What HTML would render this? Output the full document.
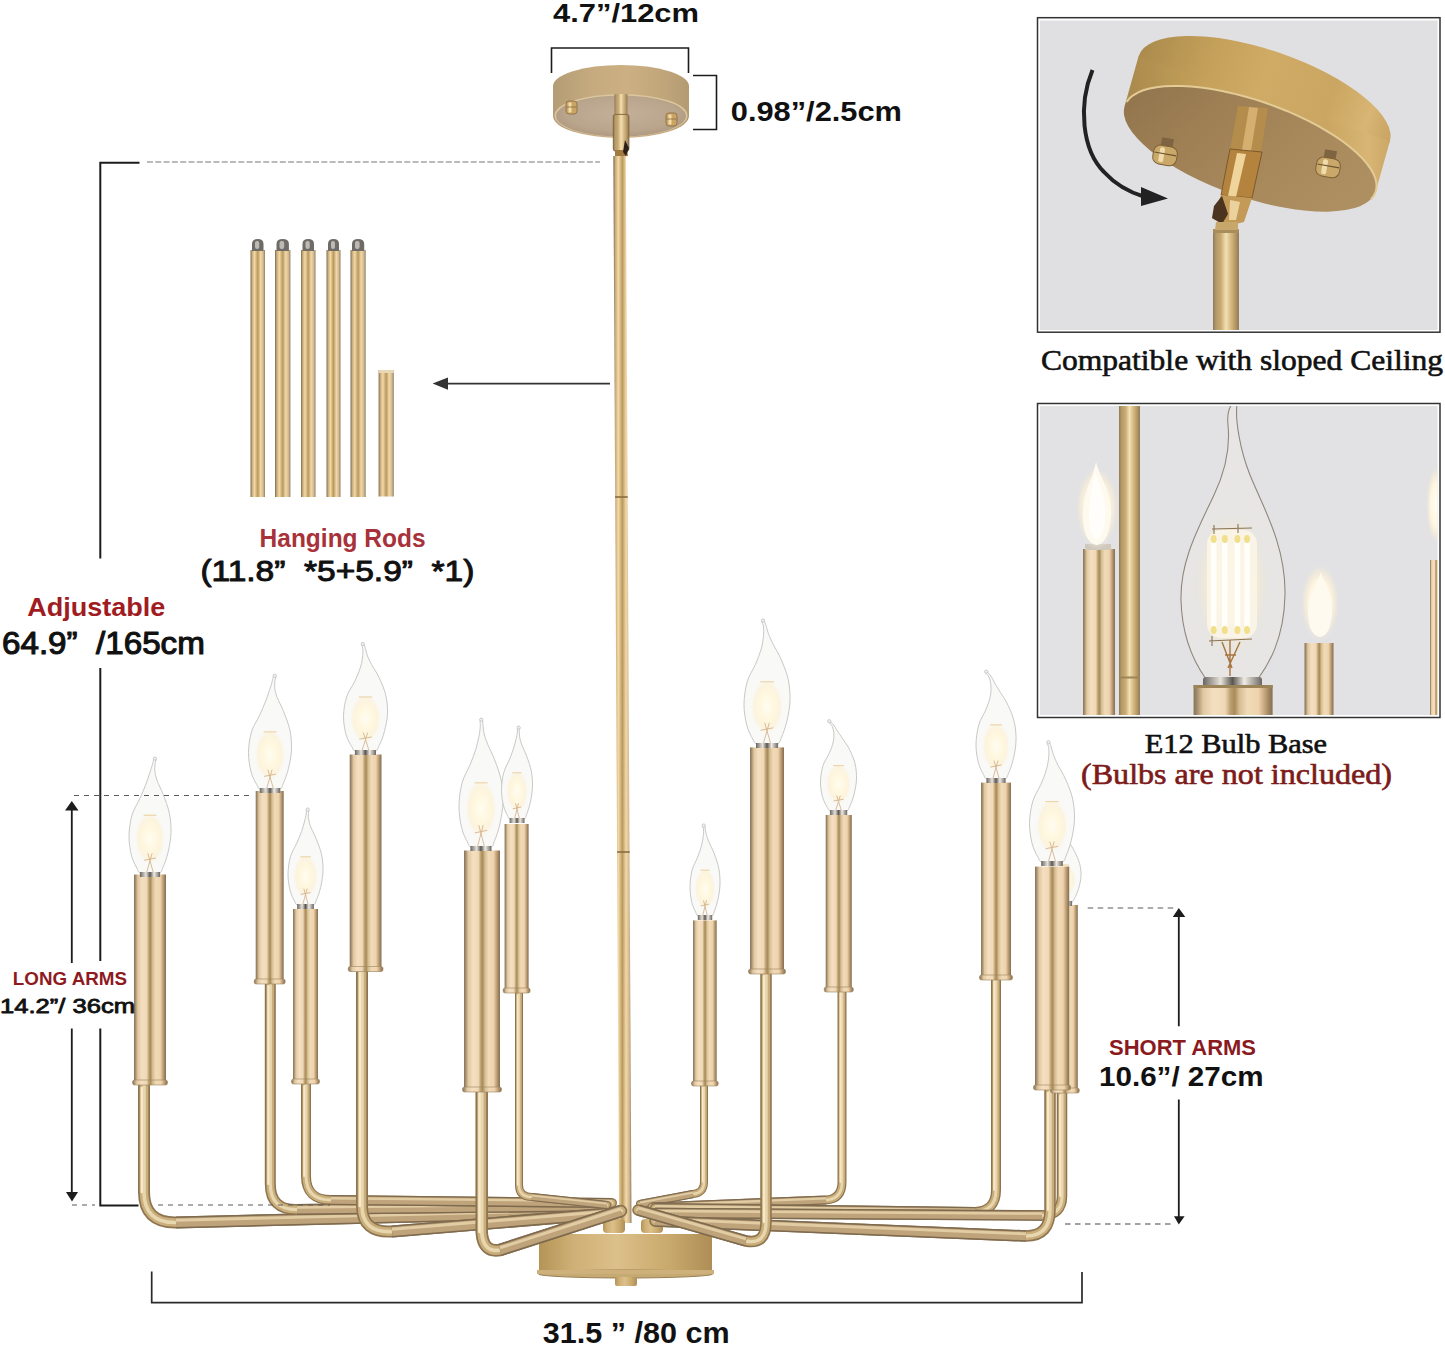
<!DOCTYPE html>
<html><head><meta charset="utf-8"><title>Chandelier</title>
<style>html,body{margin:0;padding:0;background:#fff;width:1445px;height:1351px;overflow:hidden}body{position:relative}</style>
</head><body>
<svg width="1445" height="1351" viewBox="0 0 1445 1351" style="position:absolute;left:0;top:0">
<defs>
 <linearGradient id="gMain" x1="0" y1="0" x2="1" y2="0"><stop offset="0" stop-color="#7c6b4f"/><stop offset="0.12" stop-color="#c9ad7c"/><stop offset="0.28" stop-color="#f4d9a6"/><stop offset="0.5" stop-color="#b8995e"/><stop offset="0.7" stop-color="#f3d8a8"/><stop offset="0.88" stop-color="#d2b78e"/><stop offset="1" stop-color="#8f7e60"/></linearGradient>
 <linearGradient id="gV" x1="0" y1="0" x2="1" y2="0">
  <stop offset="0" stop-color="#857256"/>
  <stop offset="0.05" stop-color="#a99070"/>
  <stop offset="0.12" stop-color="#e0c8a2"/>
  <stop offset="0.25" stop-color="#f5dfc0"/>
  <stop offset="0.4" stop-color="#f0d8b6"/>
  <stop offset="0.47" stop-color="#b99d6c"/>
  <stop offset="0.52" stop-color="#a98c5a"/>
  <stop offset="0.58" stop-color="#d5bd92"/>
  <stop offset="0.68" stop-color="#f1dab6"/>
  <stop offset="0.82" stop-color="#eed4ae"/>
  <stop offset="0.9" stop-color="#c6a47c"/>
  <stop offset="0.96" stop-color="#9a8260"/>
  <stop offset="1" stop-color="#857050"/>
 </linearGradient>
 <linearGradient id="gRod" x1="0" y1="0" x2="1" y2="0">
  <stop offset="0" stop-color="#8c7a5a"/>
  <stop offset="0.12" stop-color="#b59a68"/>
  <stop offset="0.3" stop-color="#c8a972"/>
  <stop offset="0.5" stop-color="#f3e0b4"/>
  <stop offset="0.65" stop-color="#dcc08a"/>
  <stop offset="0.85" stop-color="#b89a66"/>
  <stop offset="1" stop-color="#8e7b5a"/>
 </linearGradient>
 <linearGradient id="gSock" x1="0" y1="0" x2="1" y2="0">
  <stop offset="0" stop-color="#6a6560"/>
  <stop offset="0.3" stop-color="#e8e4dc"/>
  <stop offset="0.5" stop-color="#5a5550"/>
  <stop offset="0.7" stop-color="#f0ece4"/>
  <stop offset="1" stop-color="#6a6560"/>
 </linearGradient>
 <radialGradient id="gGlow" cx="0.5" cy="0.55" r="0.5">
  <stop offset="0" stop-color="#fffbea"/>
  <stop offset="0.5" stop-color="#fff6dc"/>
  <stop offset="1" stop-color="#fdfcf8"/>
 </radialGradient>
 <radialGradient id="gGlow2" cx="0.5" cy="0.5" r="0.5">
  <stop offset="0" stop-color="#fffdf2"/>
  <stop offset="0.45" stop-color="#fff7de"/>
  <stop offset="0.75" stop-color="#fcf2d8" stop-opacity="0.8"/>
  <stop offset="1" stop-color="#f9f9f8" stop-opacity="0"/>
 </radialGradient>
 <linearGradient id="gHub" x1="0" y1="0" x2="1" y2="0">
  <stop offset="0" stop-color="#b49456"/>
  <stop offset="0.2" stop-color="#cfb076"/>
  <stop offset="0.45" stop-color="#dcc08a"/>
  <stop offset="0.75" stop-color="#c9a96c"/>
  <stop offset="1" stop-color="#ae8e56"/>
 </linearGradient>
 <linearGradient id="gCan" x1="0" y1="0" x2="1" y2="0">
  <stop offset="0" stop-color="#b99c6c"/>
  <stop offset="0.4" stop-color="#d0b381"/>
  <stop offset="0.6" stop-color="#caa978"/>
  <stop offset="1" stop-color="#b5976a"/>
 </linearGradient>
</defs>
<rect x="250.5" y="250" width="14.5" height="247" fill="url(#gMain)"/><path d="M252.0,251 L252.0,244 Q252.0,239 257.75,239 Q263.5,239 263.5,244 L263.5,251 Z" fill="#6f6b67"/><rect x="255.0" y="241" width="4.25" height="8" rx="2" fill="#bdb9b4"/><rect x="275" y="250" width="15.399999999999977" height="247" fill="url(#gMain)"/><path d="M276.5,251 L276.5,244 Q276.5,239 282.7,239 Q288.9,239 288.9,244 L288.9,251 Z" fill="#6f6b67"/><rect x="279.5" y="241" width="4.699999999999989" height="8" rx="2" fill="#bdb9b4"/><rect x="301" y="250" width="14.5" height="247" fill="url(#gMain)"/><path d="M302.5,251 L302.5,244 Q302.5,239 308.25,239 Q314.0,239 314.0,244 L314.0,251 Z" fill="#6f6b67"/><rect x="305.5" y="241" width="4.25" height="8" rx="2" fill="#bdb9b4"/><rect x="326.5" y="250" width="14.0" height="247" fill="url(#gMain)"/><path d="M328.0,251 L328.0,244 Q328.0,239 333.5,239 Q339.0,239 339.0,244 L339.0,251 Z" fill="#6f6b67"/><rect x="331.0" y="241" width="4.0" height="8" rx="2" fill="#bdb9b4"/><rect x="350.5" y="250" width="15.199999999999989" height="247" fill="url(#gMain)"/><path d="M352.0,251 L352.0,244 Q352.0,239 358.1,239 Q364.2,239 364.2,244 L364.2,251 Z" fill="#6f6b67"/><rect x="355.0" y="241" width="4.599999999999994" height="8" rx="2" fill="#bdb9b4"/><rect x="378.6" y="370" width="15.2" height="126.5" fill="url(#gMain)"/><rect x="378.6" y="370" width="15.2" height="3" fill="#e8d8b4"/><g id="canopy"><linearGradient id="gBand" x1="0" y1="0" x2="1" y2="0"><stop offset="0" stop-color="#b49c74"/><stop offset="0.3" stop-color="#c6ab7f"/><stop offset="0.55" stop-color="#ccb084"/><stop offset="0.8" stop-color="#c1a67a"/><stop offset="1" stop-color="#b39b72"/></linearGradient><radialGradient id="gBface" cx="0.5" cy="0.45" r="0.6"><stop offset="0" stop-color="#c4b09a"/><stop offset="0.7" stop-color="#b9a48c"/><stop offset="1" stop-color="#ad977d"/></radialGradient><path d="M553,86 L553,116 A68,22 0 0 0 689,116 L689,86 Z" fill="url(#gBand)"/><ellipse cx="621" cy="86" rx="68" ry="21" fill="url(#gBand)"/><ellipse cx="621" cy="115.5" rx="66.5" ry="21.5" fill="#dcc6a0"/><ellipse cx="621" cy="116" rx="65" ry="20.5" fill="url(#gBface)"/><rect x="566.0" y="101" width="11" height="13" rx="3" fill="#c9a466" stroke="#8a6b3c" stroke-width="0.8"/><rect x="568.5" y="102.5" width="3" height="10" fill="#f2dca8"/><path d="M566.5,107 L576.5,107" stroke="#8a6b3c" stroke-width="0.8"/><rect x="666.0" y="113" width="11" height="13" rx="3" fill="#c9a466" stroke="#8a6b3c" stroke-width="0.8"/><rect x="668.5" y="114.5" width="3" height="10" fill="#f2dca8"/><path d="M666.5,119 L676.5,119" stroke="#8a6b3c" stroke-width="0.8"/><rect x="614.5" y="94" width="13" height="22" fill="url(#gRod)"/><rect x="613.3" y="114.4" width="15.6" height="36.6" rx="2" fill="url(#gRod)" stroke="#7e6236" stroke-width="0.9"/><path d="M615,150 L627,150 L628,156 L615,157 Z" fill="#a07a40"/><path d="M625,140 L629,148 L626,156 L623,152 Z" fill="#2a2018"/></g><path d="M613.3,156 L619.1,1223 L631.5,1223 L625.8,156 Z" fill="url(#gMain)"/><rect x="615.1" y="496" width="12.6" height="2" fill="#8a6c3e" opacity="0.8"/><rect x="617.1" y="851" width="12.6" height="2" fill="#8a6c3e" opacity="0.8"/><g id="hub"><rect x="539" y="1234" width="173" height="40" fill="url(#gHub)"/><ellipse cx="625.5" cy="1274" rx="87" ry="4" fill="#c6aa74" stroke="#9a7f55" stroke-width="1"/><rect x="537" y="1270" width="177" height="4" fill="#cdb07a"/><rect x="615" y="1277" width="22" height="9" rx="2" fill="url(#gHub)"/><rect x="603" y="1219" width="22" height="14" rx="4" fill="url(#gHub)"/><rect x="641" y="1219" width="22" height="14" rx="4" fill="url(#gHub)"/></g><path d="M144,1086 L144,1192 Q144,1223 176,1222.5 L600,1212" fill="none" stroke="#8c7450" stroke-width="12" stroke-linecap="round" stroke-linejoin="round"/><path d="M144,1086 L144,1192 Q144,1223 176,1222.5 L600,1212" fill="none" stroke="#c9ad7a" stroke-width="8.6" stroke-linecap="round" stroke-linejoin="round"/><path d="M144,1086 L144,1192 Q144,1223 176,1222.5 L600,1212" fill="none" stroke="#e8d6ae" stroke-width="3.6" stroke-linecap="round" stroke-linejoin="round"/><path d="M141.8,1088.0 L141.8,1192.0" stroke="#f6e8c8" stroke-width="2.4" stroke-linecap="round"/><path d="M176.0,1222.5 L600.0,1212.0" fill="none" stroke="#7e6a4e" stroke-width="12" stroke-linecap="butt"/><path d="M176.0,1222.5 L600.0,1212.0" fill="none" stroke="#bea37b" stroke-width="8.9" stroke-linecap="butt"/><path d="M176.0,1220.3 L600.0,1209.8" fill="none" stroke="#e2cca4" stroke-width="2.9" stroke-linecap="butt"/><path d="M270.3,984 L270.3,1184 Q270.3,1210 297,1209.5 L610,1206" fill="none" stroke="#8c7450" stroke-width="11" stroke-linecap="round" stroke-linejoin="round"/><path d="M270.3,984 L270.3,1184 Q270.3,1210 297,1209.5 L610,1206" fill="none" stroke="#c9ad7a" stroke-width="7.9" stroke-linecap="round" stroke-linejoin="round"/><path d="M270.3,984 L270.3,1184 Q270.3,1210 297,1209.5 L610,1206" fill="none" stroke="#e8d6ae" stroke-width="3.3" stroke-linecap="round" stroke-linejoin="round"/><path d="M268.3,986.0 L268.3,1184.0" stroke="#f6e8c8" stroke-width="2.2" stroke-linecap="round"/><path d="M297.0,1209.5 L610.0,1206.0" fill="none" stroke="#7e6a4e" stroke-width="11" stroke-linecap="butt"/><path d="M297.0,1209.5 L610.0,1206.0" fill="none" stroke="#bea37b" stroke-width="8.1" stroke-linecap="butt"/><path d="M297.0,1207.5 L610.0,1204.0" fill="none" stroke="#e2cca4" stroke-width="2.6" stroke-linecap="butt"/><path d="M306,1084 L306,1176 Q306,1200 331,1200 L612,1203" fill="none" stroke="#8c7450" stroke-width="10" stroke-linecap="round" stroke-linejoin="round"/><path d="M306,1084 L306,1176 Q306,1200 331,1200 L612,1203" fill="none" stroke="#c9ad7a" stroke-width="7.2" stroke-linecap="round" stroke-linejoin="round"/><path d="M306,1084 L306,1176 Q306,1200 331,1200 L612,1203" fill="none" stroke="#e8d6ae" stroke-width="3.0" stroke-linecap="round" stroke-linejoin="round"/><path d="M304.2,1086.0 L304.2,1176.0" stroke="#f6e8c8" stroke-width="2.0" stroke-linecap="round"/><path d="M331.0,1200.0 L612.0,1203.0" fill="none" stroke="#7e6a4e" stroke-width="10" stroke-linecap="butt"/><path d="M331.0,1200.0 L612.0,1203.0" fill="none" stroke="#bea37b" stroke-width="7.4" stroke-linecap="butt"/><path d="M331.0,1198.2 L612.0,1201.2" fill="none" stroke="#e2cca4" stroke-width="2.4" stroke-linecap="butt"/><path d="M362,971 L362,1206 Q362,1233 392,1231.5 L615,1213" fill="none" stroke="#8c7450" stroke-width="12" stroke-linecap="round" stroke-linejoin="round"/><path d="M362,971 L362,1206 Q362,1233 392,1231.5 L615,1213" fill="none" stroke="#c9ad7a" stroke-width="8.6" stroke-linecap="round" stroke-linejoin="round"/><path d="M362,971 L362,1206 Q362,1233 392,1231.5 L615,1213" fill="none" stroke="#e8d6ae" stroke-width="3.6" stroke-linecap="round" stroke-linejoin="round"/><path d="M359.8,973.0 L359.8,1206.0" stroke="#f6e8c8" stroke-width="2.4" stroke-linecap="round"/><path d="M392.0,1231.5 L615.0,1213.0" fill="none" stroke="#7e6a4e" stroke-width="12" stroke-linecap="butt"/><path d="M392.0,1231.5 L615.0,1213.0" fill="none" stroke="#bea37b" stroke-width="8.9" stroke-linecap="butt"/><path d="M392.0,1229.3 L615.0,1210.8" fill="none" stroke="#e2cca4" stroke-width="2.9" stroke-linecap="butt"/><path d="M519,993 L519,1185 Q519,1197 532,1197 L607,1205" fill="none" stroke="#8c7450" stroke-width="8" stroke-linecap="round" stroke-linejoin="round"/><path d="M519,993 L519,1185 Q519,1197 532,1197 L607,1205" fill="none" stroke="#c9ad7a" stroke-width="5.8" stroke-linecap="round" stroke-linejoin="round"/><path d="M519,993 L519,1185 Q519,1197 532,1197 L607,1205" fill="none" stroke="#e8d6ae" stroke-width="2.4" stroke-linecap="round" stroke-linejoin="round"/><path d="M517.6,995.0 L517.6,1185.0" stroke="#f6e8c8" stroke-width="1.6" stroke-linecap="round"/><path d="M532.0,1197.0 L607.0,1205.0" fill="none" stroke="#7e6a4e" stroke-width="8" stroke-linecap="butt"/><path d="M532.0,1197.0 L607.0,1205.0" fill="none" stroke="#bea37b" stroke-width="5.9" stroke-linecap="butt"/><path d="M532.0,1195.6 L607.0,1203.6" fill="none" stroke="#e2cca4" stroke-width="1.9" stroke-linecap="butt"/><path d="M704,1085 L704,1182 Q704,1193 693,1194 L640,1204" fill="none" stroke="#8c7450" stroke-width="8" stroke-linecap="round" stroke-linejoin="round"/><path d="M704,1085 L704,1182 Q704,1193 693,1194 L640,1204" fill="none" stroke="#c9ad7a" stroke-width="5.8" stroke-linecap="round" stroke-linejoin="round"/><path d="M704,1085 L704,1182 Q704,1193 693,1194 L640,1204" fill="none" stroke="#e8d6ae" stroke-width="2.4" stroke-linecap="round" stroke-linejoin="round"/><path d="M702.6,1087.0 L702.6,1182.0" stroke="#f6e8c8" stroke-width="1.6" stroke-linecap="round"/><path d="M693.0,1194.0 L640.0,1204.0" fill="none" stroke="#7e6a4e" stroke-width="8" stroke-linecap="butt"/><path d="M693.0,1194.0 L640.0,1204.0" fill="none" stroke="#bea37b" stroke-width="5.9" stroke-linecap="butt"/><path d="M693.0,1192.6 L640.0,1202.6" fill="none" stroke="#e2cca4" stroke-width="1.9" stroke-linecap="butt"/><path d="M842,991 L842,1182 Q842,1199 826,1200 L652,1207" fill="none" stroke="#8c7450" stroke-width="9" stroke-linecap="round" stroke-linejoin="round"/><path d="M842,991 L842,1182 Q842,1199 826,1200 L652,1207" fill="none" stroke="#c9ad7a" stroke-width="6.5" stroke-linecap="round" stroke-linejoin="round"/><path d="M842,991 L842,1182 Q842,1199 826,1200 L652,1207" fill="none" stroke="#e8d6ae" stroke-width="2.7" stroke-linecap="round" stroke-linejoin="round"/><path d="M840.4,993.0 L840.4,1182.0" stroke="#f6e8c8" stroke-width="1.8" stroke-linecap="round"/><path d="M826.0,1200.0 L652.0,1207.0" fill="none" stroke="#7e6a4e" stroke-width="9" stroke-linecap="butt"/><path d="M826.0,1200.0 L652.0,1207.0" fill="none" stroke="#bea37b" stroke-width="6.7" stroke-linecap="butt"/><path d="M826.0,1198.4 L652.0,1205.4" fill="none" stroke="#e2cca4" stroke-width="2.2" stroke-linecap="butt"/><path d="M996,979 L996,1190 Q996,1211 975,1212 L655,1208" fill="none" stroke="#8c7450" stroke-width="10" stroke-linecap="round" stroke-linejoin="round"/><path d="M996,979 L996,1190 Q996,1211 975,1212 L655,1208" fill="none" stroke="#c9ad7a" stroke-width="7.2" stroke-linecap="round" stroke-linejoin="round"/><path d="M996,979 L996,1190 Q996,1211 975,1212 L655,1208" fill="none" stroke="#e8d6ae" stroke-width="3.0" stroke-linecap="round" stroke-linejoin="round"/><path d="M994.2,981.0 L994.2,1190.0" stroke="#f6e8c8" stroke-width="2.0" stroke-linecap="round"/><path d="M975.0,1212.0 L655.0,1208.0" fill="none" stroke="#7e6a4e" stroke-width="10" stroke-linecap="butt"/><path d="M975.0,1212.0 L655.0,1208.0" fill="none" stroke="#bea37b" stroke-width="7.4" stroke-linecap="butt"/><path d="M975.0,1210.2 L655.0,1206.2" fill="none" stroke="#e2cca4" stroke-width="2.4" stroke-linecap="butt"/><path d="M1062,1093 L1062,1196 Q1062,1215 1042,1215.5 L655,1213" fill="none" stroke="#8c7450" stroke-width="10.5" stroke-linecap="round" stroke-linejoin="round"/><path d="M1062,1093 L1062,1196 Q1062,1215 1042,1215.5 L655,1213" fill="none" stroke="#c9ad7a" stroke-width="7.6" stroke-linecap="round" stroke-linejoin="round"/><path d="M1062,1093 L1062,1196 Q1062,1215 1042,1215.5 L655,1213" fill="none" stroke="#e8d6ae" stroke-width="3.1" stroke-linecap="round" stroke-linejoin="round"/><path d="M1060.1,1095.0 L1060.1,1196.0" stroke="#f6e8c8" stroke-width="2.1" stroke-linecap="round"/><path d="M1042.0,1215.5 L655.0,1213.0" fill="none" stroke="#7e6a4e" stroke-width="10.5" stroke-linecap="butt"/><path d="M1042.0,1215.5 L655.0,1213.0" fill="none" stroke="#bea37b" stroke-width="7.8" stroke-linecap="butt"/><path d="M1042.0,1213.6 L655.0,1211.1" fill="none" stroke="#e2cca4" stroke-width="2.5" stroke-linecap="butt"/><path d="M1050,1091 L1050,1210 Q1050,1236 1026,1236 L655,1221" fill="none" stroke="#8c7450" stroke-width="11.5" stroke-linecap="round" stroke-linejoin="round"/><path d="M1050,1091 L1050,1210 Q1050,1236 1026,1236 L655,1221" fill="none" stroke="#c9ad7a" stroke-width="8.3" stroke-linecap="round" stroke-linejoin="round"/><path d="M1050,1091 L1050,1210 Q1050,1236 1026,1236 L655,1221" fill="none" stroke="#e8d6ae" stroke-width="3.4" stroke-linecap="round" stroke-linejoin="round"/><path d="M1047.9,1093.0 L1047.9,1210.0" stroke="#f6e8c8" stroke-width="2.3" stroke-linecap="round"/><path d="M1026.0,1236.0 L655.0,1221.0" fill="none" stroke="#7e6a4e" stroke-width="11.5" stroke-linecap="butt"/><path d="M1026.0,1236.0 L655.0,1221.0" fill="none" stroke="#bea37b" stroke-width="8.5" stroke-linecap="butt"/><path d="M1026.0,1233.9 L655.0,1218.9" fill="none" stroke="#e2cca4" stroke-width="2.8" stroke-linecap="butt"/><path d="M766,974 L766,1222 Q766,1245 746,1241 L638,1210" fill="none" stroke="#8c7450" stroke-width="11.5" stroke-linecap="round" stroke-linejoin="round"/><path d="M766,974 L766,1222 Q766,1245 746,1241 L638,1210" fill="none" stroke="#c9ad7a" stroke-width="8.3" stroke-linecap="round" stroke-linejoin="round"/><path d="M766,974 L766,1222 Q766,1245 746,1241 L638,1210" fill="none" stroke="#e8d6ae" stroke-width="3.4" stroke-linecap="round" stroke-linejoin="round"/><path d="M763.9,976.0 L763.9,1222.0" stroke="#f6e8c8" stroke-width="2.3" stroke-linecap="round"/><path d="M746.0,1241.0 L638.0,1210.0" fill="none" stroke="#7e6a4e" stroke-width="11.5" stroke-linecap="butt"/><path d="M746.0,1241.0 L638.0,1210.0" fill="none" stroke="#bea37b" stroke-width="8.5" stroke-linecap="butt"/><path d="M746.0,1238.9 L638.0,1207.9" fill="none" stroke="#e2cca4" stroke-width="2.8" stroke-linecap="butt"/><path d="M481.7,1091 L481.7,1232 Q483,1253 500,1250 L621,1211" fill="none" stroke="#8c7450" stroke-width="12.5" stroke-linecap="round" stroke-linejoin="round"/><path d="M481.7,1091 L481.7,1232 Q483,1253 500,1250 L621,1211" fill="none" stroke="#c9ad7a" stroke-width="9.0" stroke-linecap="round" stroke-linejoin="round"/><path d="M481.7,1091 L481.7,1232 Q483,1253 500,1250 L621,1211" fill="none" stroke="#e8d6ae" stroke-width="3.8" stroke-linecap="round" stroke-linejoin="round"/><path d="M479.4,1093.0 L479.4,1232.0" stroke="#f6e8c8" stroke-width="2.5" stroke-linecap="round"/><path d="M500.0,1250.0 L621.0,1211.0" fill="none" stroke="#7e6a4e" stroke-width="12.5" stroke-linecap="butt"/><path d="M500.0,1250.0 L621.0,1211.0" fill="none" stroke="#bea37b" stroke-width="9.2" stroke-linecap="butt"/><path d="M500.0,1247.8 L621.0,1208.8" fill="none" stroke="#e2cca4" stroke-width="3.0" stroke-linecap="butt"/><rect x="134" y="874.5" width="32" height="210.5" fill="url(#gV)"/><rect x="132.5" y="1080" width="35" height="5" rx="2" fill="url(#gV)" stroke="#9c855e" stroke-width="0.6"/><path d="M141.2,873.0 C137.5,872.2 138.6,871.3 137.0,868.4 C135.4,865.5 132.9,861.1 131.5,855.7 C130.2,850.3 128.9,842.8 129.0,836.1 C129.1,829.3 130.2,821.5 131.9,815.3 C133.7,809.1 137.3,804.1 139.6,799.1 C141.8,794.1 143.8,789.5 145.5,785.3 C147.1,781.1 148.3,777.2 149.5,773.8 C150.6,770.3 151.6,767.0 152.4,764.5 C153.1,762.1 153.4,760.3 153.8,759.1 C154.2,757.9 154.6,757.6 155.0,757.6 C155.4,757.6 156.2,758.1 156.2,759.1 C156.2,760.1 155.4,761.3 155.1,763.4 C154.9,765.4 154.5,768.6 154.9,771.4 C155.2,774.3 155.8,776.8 157.1,780.7 C158.5,784.5 161.1,789.1 163.2,794.5 C165.2,799.9 168.0,806.6 169.3,813.0 C170.6,819.3 171.2,826.1 171.0,832.6 C170.8,839.1 169.4,846.5 168.1,852.2 C166.7,858.0 164.6,863.8 163.0,867.2 C161.5,870.7 162.5,872.0 158.8,873.0 C155.2,874.0 144.8,873.8 141.2,873.0 Z" fill="#f9f9f8" stroke="#c8c8c6" stroke-width="1"/><circle cx="155.0" cy="758.6" r="1.6" fill="#f4f4f4" stroke="#b8b8b8" stroke-width="0.7"/><ellipse cx="150.0" cy="838.4" rx="15.8" ry="27.7" fill="url(#gGlow2)"/><path d="M143.7,815.3 L156.3,815.3" stroke="#e9cf98" stroke-width="1.2" opacity="0.8"/><path d="M144.1,860.3 L155.9,858.0 M146.8,872.0 L152.1,853.4 M153.2,872.0 L147.9,853.4" stroke="#c9a070" stroke-width="0.9" opacity="0.75"/><rect x="139.9" y="872.0" width="20.2" height="5" fill="url(#gSock)"/><rect x="255.7" y="791" width="28.0" height="193" fill="url(#gV)"/><rect x="254.2" y="979" width="31.0" height="5" rx="2" fill="url(#gV)" stroke="#9c855e" stroke-width="0.6"/><path d="M261.0,789.0 C257.2,788.2 258.3,787.3 256.7,784.4 C255.0,781.6 252.4,777.2 251.1,771.9 C249.7,766.5 248.4,759.1 248.5,752.4 C248.6,745.8 249.7,737.9 251.5,731.9 C253.3,725.8 257.0,720.8 259.3,715.8 C261.6,710.9 263.6,706.3 265.3,702.1 C267.0,697.9 268.2,694.1 269.3,690.7 C270.5,687.3 271.5,684.0 272.1,681.6 C272.8,679.1 273.1,677.3 273.5,676.2 C273.9,675.1 274.3,674.7 274.7,674.7 C275.1,674.7 275.9,675.2 275.9,676.2 C275.9,677.2 275.2,678.4 275.0,680.4 C274.8,682.5 274.4,685.6 274.8,688.4 C275.2,691.3 275.8,693.8 277.2,697.6 C278.7,701.4 281.4,705.9 283.5,711.3 C285.6,716.6 288.4,723.3 289.8,729.6 C291.1,735.9 291.7,742.5 291.5,749.0 C291.3,755.5 289.9,762.7 288.5,768.4 C287.1,774.1 284.9,779.9 283.3,783.3 C281.8,786.7 282.8,788.0 279.0,789.0 C275.3,790.0 264.7,789.8 261.0,789.0 Z" fill="#f9f9f8" stroke="#c8c8c6" stroke-width="1"/><circle cx="274.7" cy="675.7" r="1.6" fill="#f4f4f4" stroke="#b8b8b8" stroke-width="0.7"/><ellipse cx="270.0" cy="754.7" rx="16.1" ry="27.4" fill="url(#gGlow2)"/><path d="M263.6,731.9 L276.4,731.9" stroke="#e9cf98" stroke-width="1.2" opacity="0.8"/><path d="M264.0,776.4 L276.0,774.1 M266.8,788.0 L272.1,769.6 M273.2,788.0 L267.9,769.6" stroke="#c9a070" stroke-width="0.9" opacity="0.75"/><rect x="259.7" y="788.0" width="20.6" height="5" fill="url(#gSock)"/><rect x="293" y="909" width="25" height="175" fill="url(#gV)"/><rect x="291.5" y="1079" width="28" height="5" rx="2" fill="url(#gV)" stroke="#9c855e" stroke-width="0.6"/><path d="M298.1,905.0 C295.1,904.4 296.0,903.6 294.6,901.1 C293.3,898.7 291.2,895.0 290.1,890.5 C289.0,886.0 287.9,879.7 288.0,874.1 C288.1,868.5 289.0,861.9 290.4,856.8 C291.9,851.6 294.9,847.4 296.8,843.2 C298.6,839.1 300.2,835.2 301.5,831.7 C302.8,828.1 303.6,824.9 304.4,822.0 C305.2,819.1 305.8,816.3 306.1,814.3 C306.5,812.3 306.2,811.0 306.4,810.0 C306.6,809.0 307.2,808.5 307.6,808.5 C308.0,808.5 308.7,809.2 308.8,810.0 C308.9,810.8 308.4,811.6 308.4,813.3 C308.3,815.0 308.3,817.7 308.8,820.1 C309.2,822.5 309.8,824.6 311.1,827.8 C312.4,831.0 314.7,834.9 316.4,839.4 C318.2,843.9 320.5,849.5 321.6,854.8 C322.7,860.1 323.2,865.8 323.0,871.2 C322.8,876.7 321.7,882.8 320.6,887.6 C319.4,892.5 317.6,897.3 316.4,900.2 C315.1,903.1 315.9,904.2 312.9,905.0 C309.8,905.8 301.2,905.6 298.1,905.0 Z" fill="#f9f9f8" stroke="#c8c8c6" stroke-width="1"/><circle cx="307.6" cy="809.5" r="1.6" fill="#f4f4f4" stroke="#b8b8b8" stroke-width="0.7"/><ellipse cx="305.5" cy="876.0" rx="13.1" ry="23.2" fill="url(#gGlow2)"/><path d="M300.2,856.8 L310.8,856.8" stroke="#e9cf98" stroke-width="1.2" opacity="0.8"/><path d="M300.6,894.4 L310.4,892.5 M302.9,904.0 L307.2,888.6 M308.1,904.0 L303.8,888.6" stroke="#c9a070" stroke-width="0.9" opacity="0.75"/><rect x="297.1" y="904.0" width="16.8" height="5" fill="url(#gSock)"/><rect x="349.7" y="754.5" width="31.80000000000001" height="217.0" fill="url(#gV)"/><rect x="348.2" y="966.5" width="34.80000000000001" height="5" rx="2" fill="url(#gV)" stroke="#9c855e" stroke-width="0.6"/><path d="M356.3,751.0 C352.4,750.3 353.5,749.4 351.9,746.7 C350.2,744.0 347.5,739.8 346.1,734.8 C344.7,729.8 343.4,722.7 343.5,716.4 C343.6,710.1 344.8,702.8 346.6,697.0 C348.4,691.2 352.2,686.6 354.5,681.9 C356.7,677.2 358.6,672.9 359.9,668.9 C361.3,665.0 362.0,661.4 362.4,658.1 C362.9,654.9 363.0,651.8 362.9,649.5 C362.8,647.2 361.6,645.6 361.6,644.5 C361.6,643.4 362.4,643.0 362.8,643.0 C363.2,643.0 363.6,643.6 364.0,644.5 C364.4,645.4 364.8,646.5 365.4,648.4 C366.0,650.3 366.5,653.3 367.5,656.0 C368.6,658.7 369.7,661.0 371.6,664.6 C373.6,668.2 376.7,672.5 379.1,677.6 C381.4,682.6 384.3,688.9 385.7,694.8 C387.1,700.8 387.7,707.1 387.5,713.2 C387.3,719.3 385.8,726.2 384.4,731.6 C383.0,737.0 380.8,742.4 379.1,745.6 C377.5,748.8 378.6,750.1 374.7,751.0 C370.9,751.9 360.1,751.7 356.3,751.0 Z" fill="#f9f9f8" stroke="#c8c8c6" stroke-width="1"/><circle cx="362.8" cy="644.0" r="1.6" fill="#f4f4f4" stroke="#b8b8b8" stroke-width="0.7"/><ellipse cx="365.5" cy="718.6" rx="16.5" ry="25.9" fill="url(#gGlow2)"/><path d="M358.9,697.0 L372.1,697.0" stroke="#e9cf98" stroke-width="1.2" opacity="0.8"/><path d="M359.3,739.1 L371.7,737.0 M362.2,750.0 L367.7,732.6 M368.8,750.0 L363.3,732.6" stroke="#c9a070" stroke-width="0.9" opacity="0.75"/><rect x="354.9" y="750.0" width="21.1" height="5" fill="url(#gSock)"/><rect x="464" y="850.5" width="36" height="241.5" fill="url(#gV)"/><rect x="462.5" y="1087" width="39" height="5" rx="2" fill="url(#gV)" stroke="#9c855e" stroke-width="0.6"/><path d="M471.8,847.0 C467.9,846.1 469.0,845.1 467.4,841.9 C465.7,838.7 463.0,833.7 461.6,827.7 C460.2,821.7 458.9,813.4 459.0,805.9 C459.1,798.4 460.2,789.6 462.1,782.8 C463.9,776.0 467.7,770.4 470.0,764.8 C472.3,759.3 474.3,754.1 475.8,749.4 C477.2,744.7 478.1,740.4 478.9,736.6 C479.7,732.7 480.1,729.1 480.3,726.3 C480.5,723.6 479.9,721.4 480.1,720.1 C480.3,718.8 480.9,718.6 481.3,718.6 C481.7,718.6 482.2,719.0 482.5,720.1 C482.8,721.2 482.7,722.7 483.0,725.0 C483.2,727.3 483.4,730.8 484.2,734.0 C485.0,737.2 485.9,740.0 487.7,744.3 C489.4,748.6 492.4,753.7 494.6,759.7 C496.9,765.7 499.8,773.2 501.2,780.2 C502.6,787.3 503.2,794.8 503.0,802.1 C502.8,809.3 501.3,817.5 499.9,823.9 C498.5,830.3 496.3,836.7 494.6,840.6 C493.0,844.4 494.1,845.9 490.2,847.0 C486.4,848.1 475.6,847.9 471.8,847.0 Z" fill="#f9f9f8" stroke="#c8c8c6" stroke-width="1"/><circle cx="481.3" cy="719.6" r="1.6" fill="#f4f4f4" stroke="#b8b8b8" stroke-width="0.7"/><ellipse cx="481.0" cy="808.5" rx="16.5" ry="30.8" fill="url(#gGlow2)"/><path d="M474.4,782.8 L487.6,782.8" stroke="#e9cf98" stroke-width="1.2" opacity="0.8"/><path d="M474.8,832.9 L487.2,830.3 M477.7,846.0 L483.2,825.2 M484.3,846.0 L478.8,825.2" stroke="#c9a070" stroke-width="0.9" opacity="0.75"/><rect x="470.4" y="846.0" width="21.1" height="5" fill="url(#gSock)"/><rect x="504.6" y="824" width="24.0" height="169" fill="url(#gV)"/><rect x="503.1" y="988" width="27.0" height="5" rx="2" fill="url(#gV)" stroke="#9c855e" stroke-width="0.6"/><path d="M510.5,819.0 C507.8,818.4 508.6,817.6 507.4,815.3 C506.2,813.0 504.3,809.5 503.4,805.1 C502.4,800.8 501.4,794.8 501.5,789.4 C501.6,784.0 502.4,777.7 503.7,772.8 C505.0,767.9 507.6,763.9 509.3,759.9 C510.9,755.9 512.3,752.2 513.4,748.8 C514.6,745.4 515.3,742.3 516.0,739.5 C516.6,736.8 517.2,734.0 517.4,732.1 C517.6,730.2 517.2,729.0 517.4,728.1 C517.6,727.2 518.2,726.6 518.6,726.6 C519.0,726.6 519.7,727.3 519.8,728.1 C519.9,728.9 519.3,729.6 519.3,731.2 C519.3,732.8 519.4,735.4 519.8,737.7 C520.2,740.0 520.8,742.0 521.9,745.1 C523.1,748.2 525.1,751.9 526.7,756.2 C528.2,760.5 530.3,765.9 531.3,771.0 C532.2,776.0 532.7,781.4 532.5,786.7 C532.3,791.9 531.3,797.7 530.3,802.4 C529.3,807.0 527.7,811.6 526.6,814.4 C525.5,817.2 526.2,818.2 523.5,819.0 C520.8,819.8 513.2,819.6 510.5,819.0 Z" fill="#f9f9f8" stroke="#c8c8c6" stroke-width="1"/><circle cx="518.6" cy="727.6" r="1.6" fill="#f4f4f4" stroke="#b8b8b8" stroke-width="0.7"/><ellipse cx="517.0" cy="791.3" rx="11.6" ry="22.2" fill="url(#gGlow2)"/><path d="M512.4,772.8 L521.6,772.8" stroke="#e9cf98" stroke-width="1.2" opacity="0.8"/><path d="M512.7,808.8 L521.3,807.0 M514.7,818.0 L518.5,803.3 M519.3,818.0 L515.5,803.3" stroke="#c9a070" stroke-width="0.9" opacity="0.75"/><rect x="509.6" y="818.0" width="14.9" height="5" fill="url(#gSock)"/><rect x="693" y="920.4" width="23.700000000000045" height="165.60000000000002" fill="url(#gV)"/><rect x="691.5" y="1081" width="26.700000000000045" height="5" rx="2" fill="url(#gV)" stroke="#9c855e" stroke-width="0.6"/><path d="M698.7,916.0 C696.1,915.4 696.9,914.6 695.7,912.3 C694.6,910.1 692.8,906.5 691.8,902.3 C690.8,898.0 690.0,892.1 690.0,886.7 C690.0,881.4 690.9,875.1 692.1,870.2 C693.3,865.4 696.0,861.4 697.5,857.4 C699.0,853.5 700.3,849.8 701.3,846.5 C702.2,843.1 702.7,840.1 703.1,837.3 C703.5,834.6 703.7,831.9 703.6,830.0 C703.5,828.1 702.5,826.9 702.5,826.0 C702.5,825.1 703.3,824.5 703.7,824.5 C704.1,824.5 704.6,825.2 704.9,826.0 C705.2,826.8 705.0,827.5 705.3,829.1 C705.6,830.7 705.9,833.2 706.6,835.5 C707.3,837.8 708.0,839.8 709.3,842.8 C710.6,845.8 712.7,849.5 714.3,853.8 C715.8,858.0 717.8,863.4 718.8,868.4 C719.8,873.5 720.1,878.8 720.0,884.0 C719.9,889.2 718.9,895.0 717.9,899.5 C716.9,904.1 715.4,908.7 714.3,911.4 C713.2,914.2 713.9,915.2 711.3,916.0 C708.7,916.8 701.3,916.6 698.7,916.0 Z" fill="#f9f9f8" stroke="#c8c8c6" stroke-width="1"/><circle cx="703.7" cy="825.5" r="1.6" fill="#f4f4f4" stroke="#b8b8b8" stroke-width="0.7"/><ellipse cx="705.0" cy="888.5" rx="11.2" ry="22.0" fill="url(#gGlow2)"/><path d="M700.5,870.2 L709.5,870.2" stroke="#e9cf98" stroke-width="1.2" opacity="0.8"/><path d="M700.8,905.9 L709.2,904.1 M702.8,915.0 L706.5,900.4 M707.2,915.0 L703.5,900.4" stroke="#c9a070" stroke-width="0.9" opacity="0.75"/><rect x="697.8" y="915.0" width="14.4" height="5" fill="url(#gSock)"/><rect x="750" y="747.4" width="34" height="226.60000000000002" fill="url(#gV)"/><rect x="748.5" y="969" width="37" height="5" rx="2" fill="url(#gV)" stroke="#9c855e" stroke-width="0.6"/><path d="M757.3,744.0 C753.4,743.2 754.5,742.1 752.7,739.0 C751.0,735.9 748.2,731.1 746.8,725.3 C745.3,719.5 743.9,711.4 744.0,704.2 C744.1,696.9 745.3,688.4 747.2,681.8 C749.1,675.1 753.1,669.7 755.5,664.3 C757.8,658.9 759.7,653.9 761.1,649.4 C762.4,644.8 763.0,640.7 763.4,636.9 C763.8,633.2 763.8,629.6 763.5,627.0 C763.3,624.3 761.9,622.2 761.8,621.0 C761.7,619.8 762.6,619.5 763.0,619.5 C763.4,619.5 763.7,620.0 764.2,621.0 C764.7,622.0 765.3,623.5 766.1,625.7 C766.8,628.0 767.5,631.3 768.7,634.4 C769.9,637.6 771.2,640.2 773.2,644.4 C775.3,648.5 778.7,653.5 781.1,659.3 C783.6,665.2 786.7,672.4 788.2,679.3 C789.6,686.1 790.2,693.4 790.0,700.4 C789.8,707.5 788.2,715.4 786.8,721.6 C785.3,727.8 782.9,734.0 781.3,737.8 C779.6,741.5 780.6,743.0 776.7,744.0 C772.7,745.0 761.3,744.8 757.3,744.0 Z" fill="#f9f9f8" stroke="#c8c8c6" stroke-width="1"/><circle cx="763.0" cy="620.5" r="1.6" fill="#f4f4f4" stroke="#b8b8b8" stroke-width="0.7"/><ellipse cx="767.0" cy="706.6" rx="17.2" ry="29.9" fill="url(#gGlow2)"/><path d="M760.1,681.8 L773.9,681.8" stroke="#e9cf98" stroke-width="1.2" opacity="0.8"/><path d="M760.6,730.3 L773.4,727.8 M763.5,743.0 L769.3,722.8 M770.5,743.0 L764.7,722.8" stroke="#c9a070" stroke-width="0.9" opacity="0.75"/><rect x="756.0" y="743.0" width="22.1" height="5" fill="url(#gSock)"/><rect x="825.7" y="815" width="26.09999999999991" height="177" fill="url(#gV)"/><rect x="824.2" y="987" width="29.09999999999991" height="5" rx="2" fill="url(#gV)" stroke="#9c855e" stroke-width="0.6"/><path d="M830.9,811.0 C827.8,810.4 828.7,809.6 827.3,807.4 C826.0,805.1 823.8,801.6 822.7,797.4 C821.5,793.1 820.4,787.2 820.5,781.9 C820.6,776.6 821.5,770.4 823.0,765.6 C824.5,760.8 827.7,756.8 829.4,752.9 C831.1,749.0 832.5,745.3 833.2,742.0 C834.0,738.7 834.0,735.6 833.8,732.9 C833.6,730.2 832.8,727.5 831.9,725.6 C831.0,723.8 828.5,722.6 828.1,721.7 C827.7,720.8 828.9,720.2 829.3,720.2 C829.7,720.2 829.8,720.9 830.5,721.7 C831.2,722.5 832.4,723.2 833.6,724.7 C834.7,726.3 836.0,728.8 837.5,731.1 C839.0,733.4 840.4,735.3 842.4,738.4 C844.3,741.4 847.3,745.0 849.4,749.3 C851.5,753.5 853.9,758.8 855.1,763.8 C856.2,768.8 856.7,774.1 856.5,779.2 C856.3,784.4 855.1,790.1 854.0,794.7 C852.8,799.2 851.0,803.7 849.7,806.5 C848.3,809.2 849.2,810.2 846.1,811.0 C842.9,811.8 834.1,811.6 830.9,811.0 Z" fill="#f9f9f8" stroke="#c8c8c6" stroke-width="1"/><circle cx="829.3" cy="721.2" r="1.6" fill="#f4f4f4" stroke="#b8b8b8" stroke-width="0.7"/><ellipse cx="838.5" cy="783.8" rx="13.5" ry="21.8" fill="url(#gGlow2)"/><path d="M833.1,765.6 L843.9,765.6" stroke="#e9cf98" stroke-width="1.2" opacity="0.8"/><path d="M833.5,801.0 L843.5,799.2 M835.8,810.0 L840.3,795.6 M841.2,810.0 L836.7,795.6" stroke="#c9a070" stroke-width="0.9" opacity="0.75"/><rect x="829.9" y="810.0" width="17.3" height="5" fill="url(#gSock)"/><rect x="981" y="782.6" width="30" height="197.39999999999998" fill="url(#gV)"/><rect x="979.5" y="975" width="33" height="5" rx="2" fill="url(#gV)" stroke="#9c855e" stroke-width="0.6"/><path d="M987.6,779.0 C984.1,778.3 985.1,777.4 983.6,774.7 C982.1,772.0 979.7,767.8 978.4,762.8 C977.1,757.7 975.9,750.7 976.0,744.3 C976.1,738.0 977.2,730.6 978.8,724.9 C980.4,719.1 984.0,714.4 985.9,709.7 C987.8,705.0 989.4,700.7 990.2,696.7 C991.1,692.7 991.1,689.1 990.9,685.9 C990.7,682.6 990.0,679.5 989.0,677.2 C988.0,674.9 985.5,673.3 985.1,672.2 C984.7,671.1 985.9,670.7 986.3,670.7 C986.7,670.7 986.7,671.3 987.5,672.2 C988.3,673.1 989.6,674.2 990.9,676.1 C992.2,678.0 993.5,681.0 995.1,683.7 C996.7,686.4 998.2,688.8 1000.4,692.4 C1002.6,696.0 1005.8,700.3 1008.1,705.4 C1010.5,710.4 1013.1,716.7 1014.4,722.7 C1015.7,728.6 1016.2,735.0 1016.0,741.1 C1015.8,747.2 1014.5,754.1 1013.2,759.5 C1011.9,764.9 1009.9,770.3 1008.4,773.6 C1006.9,776.8 1007.9,778.1 1004.4,779.0 C1000.9,779.9 991.1,779.7 987.6,779.0 Z" fill="#f9f9f8" stroke="#c8c8c6" stroke-width="1"/><circle cx="986.3" cy="671.7" r="1.6" fill="#f4f4f4" stroke="#b8b8b8" stroke-width="0.7"/><ellipse cx="996.0" cy="746.5" rx="15.0" ry="26.0" fill="url(#gGlow2)"/><path d="M990.0,724.9 L1002.0,724.9" stroke="#e9cf98" stroke-width="1.2" opacity="0.8"/><path d="M990.4,767.1 L1001.6,764.9 M993.0,778.0 L998.0,760.6 M999.0,778.0 L994.0,760.6" stroke="#c9a070" stroke-width="0.9" opacity="0.75"/><rect x="986.4" y="778.0" width="19.2" height="5" fill="url(#gSock)"/><rect x="1052" y="905" width="25.799999999999955" height="188" fill="url(#gV)"/><rect x="1050.5" y="1088" width="28.799999999999955" height="5" rx="2" fill="url(#gV)" stroke="#9c855e" stroke-width="0.6"/><path d="M1056.9,902.0 C1053.9,901.5 1054.8,900.9 1053.5,899.0 C1052.2,897.2 1050.1,894.4 1049.0,890.9 C1048.0,887.4 1046.9,882.6 1047.0,878.3 C1047.1,874.0 1048.0,868.9 1049.4,865.0 C1050.8,861.1 1053.7,857.8 1055.5,854.6 C1057.4,851.4 1059.0,848.5 1060.3,845.8 C1061.7,843.0 1062.6,840.6 1063.6,838.4 C1064.5,836.1 1065.3,833.9 1065.9,832.4 C1066.4,831.0 1066.4,830.2 1066.8,829.5 C1067.2,828.8 1067.6,828.0 1068.0,828.0 C1068.4,828.0 1069.2,828.9 1069.2,829.5 C1069.2,830.1 1068.3,830.5 1068.1,831.7 C1067.9,832.9 1067.6,835.0 1067.9,836.9 C1068.2,838.7 1068.6,840.3 1069.8,842.8 C1070.9,845.3 1073.0,848.2 1074.7,851.7 C1076.3,855.1 1078.6,859.4 1079.6,863.5 C1080.7,867.6 1081.2,871.9 1081.0,876.1 C1080.8,880.3 1079.7,885.0 1078.6,888.7 C1077.5,892.4 1075.8,896.1 1074.5,898.3 C1073.3,900.5 1074.1,901.4 1071.1,902.0 C1068.2,902.6 1059.8,902.5 1056.9,902.0 Z" fill="#f9f9f8" stroke="#c8c8c6" stroke-width="1"/><circle cx="1068.0" cy="829.0" r="1.6" fill="#f4f4f4" stroke="#b8b8b8" stroke-width="0.7"/><ellipse cx="1064.0" cy="879.8" rx="12.8" ry="17.8" fill="url(#gGlow2)"/><path d="M1058.9,865.0 L1069.1,865.0" stroke="#e9cf98" stroke-width="1.2" opacity="0.8"/><path d="M1059.2,893.9 L1068.8,892.4 M1061.5,901.0 L1065.7,889.4 M1066.5,901.0 L1062.3,889.4" stroke="#c9a070" stroke-width="0.9" opacity="0.75"/><rect x="1055.8" y="901.0" width="16.3" height="5" fill="url(#gSock)"/><rect x="1035" y="866.6" width="34.200000000000045" height="223.39999999999998" fill="url(#gV)"/><rect x="1033.5" y="1085" width="37.200000000000045" height="5" rx="2" fill="url(#gV)" stroke="#9c855e" stroke-width="0.6"/><path d="M1042.5,862.0 C1038.6,861.2 1039.8,860.2 1038.0,857.2 C1036.3,854.1 1033.6,849.5 1032.2,843.9 C1030.8,838.2 1029.4,830.4 1029.5,823.3 C1029.6,816.3 1030.8,808.0 1032.7,801.6 C1034.5,795.2 1038.4,789.9 1040.7,784.7 C1043.0,779.5 1044.9,774.6 1046.2,770.2 C1047.6,765.8 1048.2,761.7 1048.6,758.1 C1049.0,754.5 1049.0,751.0 1048.8,748.4 C1048.6,745.9 1047.3,743.9 1047.2,742.7 C1047.1,741.5 1048.0,741.2 1048.4,741.2 C1048.8,741.2 1049.1,741.7 1049.6,742.7 C1050.1,743.7 1050.6,745.1 1051.3,747.2 C1052.0,749.4 1052.6,752.7 1053.8,755.7 C1054.9,758.7 1056.1,761.3 1058.1,765.4 C1060.2,769.4 1063.4,774.2 1065.8,779.9 C1068.3,785.5 1071.3,792.5 1072.7,799.2 C1074.1,805.8 1074.7,812.9 1074.5,819.7 C1074.3,826.6 1072.8,834.2 1071.3,840.3 C1069.9,846.3 1067.6,852.3 1066.0,856.0 C1064.3,859.6 1065.4,861.0 1061.5,862.0 C1057.5,863.0 1046.5,862.8 1042.5,862.0 Z" fill="#f9f9f8" stroke="#c8c8c6" stroke-width="1"/><circle cx="1048.4" cy="742.2" r="1.6" fill="#f4f4f4" stroke="#b8b8b8" stroke-width="0.7"/><ellipse cx="1052.0" cy="825.8" rx="16.9" ry="29.0" fill="url(#gGlow2)"/><path d="M1045.2,801.6 L1058.8,801.6" stroke="#e9cf98" stroke-width="1.2" opacity="0.8"/><path d="M1045.7,848.7 L1058.3,846.3 M1048.6,861.0 L1054.2,841.5 M1055.4,861.0 L1049.8,841.5" stroke="#c9a070" stroke-width="0.9" opacity="0.75"/><rect x="1041.2" y="861.0" width="21.6" height="5" fill="url(#gSock)"/><path d="M551.5,73 L551.5,48 L688.5,48 L688.5,73" fill="none" stroke="#1c1c1c" stroke-width="1.6"/><path d="M693,75.5 L716.5,75.5 L716.5,129.5 L693,129.5" fill="none" stroke="#1c1c1c" stroke-width="1.6"/><path d="M139.5,162.8 L100.3,162.8 L100.3,558.5" fill="none" stroke="#1c1c1c" stroke-width="2"/><path d="M100.3,668 L100.3,961" fill="none" stroke="#1c1c1c" stroke-width="2"/><path d="M100.3,1028.5 L100.3,1205.5 L138.5,1205.5" fill="none" stroke="#1c1c1c" stroke-width="2"/><path d="M147,162 L600,162" stroke="#777" stroke-width="1.1" stroke-dasharray="6,2.3"/><path d="M71.8,810 L71.8,963 M71.8,1028.5 L71.8,1193" stroke="#1c1c1c" stroke-width="1.8"/><path d="M65,810.5 L71.8,801 L78.5,810.5 Z" fill="#1c1c1c"/><path d="M66,1192 L72,1201.5 L78,1192 Z" fill="#1c1c1c"/><path d="M74,795.5 L250,795.5" stroke="#5a5a5a" stroke-width="1.1" stroke-dasharray="5,5"/><path d="M72,1205 L95,1205 M158,1205 L330,1205" stroke="#5a5a5a" stroke-width="1.1" stroke-dasharray="5,5"/><path d="M1178.8,916 L1178.8,1026.3 M1178.8,1099.4 L1178.8,1217" stroke="#1c1c1c" stroke-width="1.8"/><path d="M1172.8,917 L1178.8,908 L1185.3,917 Z" fill="#1c1c1c"/><path d="M1174,1216.3 L1178.8,1224.6 L1184.6,1216.3 Z" fill="#1c1c1c"/><path d="M1087.7,908 L1174,908" stroke="#5a5a5a" stroke-width="1.1" stroke-dasharray="5.5,4.5"/><path d="M1065,1224 L1175,1224" stroke="#444" stroke-width="1.1" stroke-dasharray="5.5,4.5"/><path d="M151.7,1271.5 L151.7,1302.6 L1082,1302.6 L1082,1272" fill="none" stroke="#2a2a2a" stroke-width="1.7"/><path d="M447,383.6 L610,383.6" stroke="#333" stroke-width="1.8"/><path d="M432.6,383.6 L448,377.5 L448,389.7 Z" fill="#333"/><g id="inset1"><rect x="1037.5" y="17.7" width="402.5" height="314.5" fill="#fff" stroke="#333" stroke-width="1.5"/><rect x="1040" y="20.5" width="397.5" height="309.5" fill="#e0e0e2"/><clipPath id="c1"><rect x="1040" y="20.5" width="397.5" height="309.5"/></clipPath><g clip-path="url(#c1)"><rect x="1213" y="229" width="26" height="110" fill="url(#gRod)"/><rect x="1213" y="229" width="26" height="4" fill="#a88c5c"/><linearGradient id="gRim" gradientUnits="userSpaceOnUse" x1="1117" y1="0" x2="1397" y2="0"><stop offset="0" stop-color="#a6874a"/><stop offset="0.3" stop-color="#c4a05a"/><stop offset="0.5" stop-color="#cfab66"/><stop offset="0.75" stop-color="#cba662"/><stop offset="0.9" stop-color="#d8b574"/><stop offset="1" stop-color="#c8a362"/></linearGradient><linearGradient id="gFace" x1="0" y1="0" x2="1" y2="0.2"><stop offset="0" stop-color="#8f734c"/><stop offset="0.35" stop-color="#9e7f54"/><stop offset="0.7" stop-color="#a7895c"/><stop offset="1" stop-color="#ad8f62"/></linearGradient><ellipse cx="1264.2" cy="98.80000000000001" rx="132.6" ry="48.4" transform="rotate(19 1264.2 98.80000000000001)" fill="url(#gRim)"/><path d="M1124.5,106.6 L1138.5,56.6 L1389.9,141.0 L1375.9,191.0 Z" fill="url(#gRim)"/><ellipse cx="1250.2" cy="148.8" rx="132.6" ry="48.4" transform="rotate(19 1250.2 148.8)" fill="url(#gFace)"/><path d="M1126.7,101.8 L1129.5,98.3 L1133.2,95.3 L1137.8,92.6 L1143.2,90.3 L1149.5,88.5 L1156.5,87.2 L1164.3,86.3 L1172.7,85.9 L1181.7,86.0 L1191.2,86.6 L1201.2,87.6 L1211.5,89.1 L1222.1,91.0 L1233.0,93.4 L1243.9,96.2 L1255.0,99.4 L1266.0,103.0 L1276.8,107.0 L1287.5,111.2 L1297.9,115.8 L1307.9,120.6 L1317.5,125.6 L1326.5,130.8 L1335.0,136.1 L1342.9,141.5 L1350.0,147.0 L1356.4,152.5 L1361.9,157.9 L1366.7,163.3 L1370.5,168.6 L1373.4,173.7 L1375.4,178.7 L1376.4,183.4 L1376.5,187.8 L1375.6,192.0 L1373.7,195.8 L1370.9,199.3" fill="none" stroke="#e3cb96" stroke-width="2"/><g transform="rotate(10 1166 150)"><rect x="1160" y="138" width="12" height="10" fill="#7e6440"/><rect x="1154" y="146" width="24" height="19" rx="7" fill="#c9a86a" stroke="#7d6136" stroke-width="1"/><rect x="1160" y="148" width="5" height="15" rx="2" fill="#f0dcaa"/><path d="M1155,154 L1177,154" stroke="#6e5430" stroke-width="1.2"/></g><g transform="rotate(10 1329 162)"><rect x="1323" y="150" width="12" height="10" fill="#7e6440"/><rect x="1317" y="158" width="24" height="19" rx="7" fill="#c9a86a" stroke="#7d6136" stroke-width="1"/><rect x="1323" y="160" width="5" height="15" rx="2" fill="#f0dcaa"/><path d="M1318,166 L1340,166" stroke="#6e5430" stroke-width="1.2"/></g><path d="M1238,106 L1268,108 L1261,152 L1230,150 Z" fill="#b48c4c"/><path d="M1249,107 L1258,108 L1251,151 L1242,150 Z" fill="#d8b274" opacity="0.9"/><path d="M1230,149 L1262,152 L1252,198 L1221,195 Z" fill="#b4843e" stroke="#6e4c22" stroke-width="0.8"/><path d="M1237,153 L1246,154 L1236,197 L1228,196 Z" fill="#f2d9a0" opacity="0.95"/><path d="M1221,195 L1252,198 L1244,222 L1228,226 L1212,218 Z" fill="#c49a58"/><path d="M1214,206 L1222,196 L1228,214 L1222,224 L1212,218 Z" fill="#4a3420"/><path d="M1230,200 L1240,202 L1236,220 L1229,220 Z" fill="#f0d8a4" opacity="0.9"/><path d="M1216,222 L1238,222 L1238,230 L1215,230 Z" fill="#c7a76c"/><path d="M1092.5,70 C1078,105 1082,150 1104,172 C1114,183 1128,192 1145,197" fill="none" stroke="#222" stroke-width="4"/><path d="M1141,187 L1168,198.5 L1141,206 Z" fill="#222"/></g></g><g id="inset2"><rect x="1037.5" y="403.5" width="402.5" height="314" fill="#fff" stroke="#333" stroke-width="1.5"/><rect x="1040" y="406" width="397.5" height="309" fill="#e2e2e4"/><clipPath id="c2"><rect x="1040" y="406" width="397.5" height="309"/></clipPath><radialGradient id="gBlob" cx="0.5" cy="0.5" r="0.5"><stop offset="0" stop-color="#fffdf4"/><stop offset="0.55" stop-color="#fff6e0"/><stop offset="0.8" stop-color="#f3ead8" stop-opacity="0.7"/><stop offset="1" stop-color="#e2e2e4" stop-opacity="0"/></radialGradient><radialGradient id="gFil" cx="0.5" cy="0.5" r="0.5"><stop offset="0" stop-color="#fff7dc"/><stop offset="0.6" stop-color="#f7ecd0" stop-opacity="0.8"/><stop offset="1" stop-color="#e4e2de" stop-opacity="0"/></radialGradient><g clip-path="url(#c2)"><rect x="1119" y="400" width="21" height="320" fill="url(#gRod)"/><rect x="1119" y="676.5" width="21" height="2" fill="#9d8658"/><rect x="1083" y="549" width="32" height="170" fill="url(#gV)"/><rect x="1085" y="544" width="26" height="6" fill="#cfc8bb"/><ellipse cx="1097" cy="508" rx="22" ry="42" fill="url(#gBlob)"/><path d="M1096,462 C1100,478 1112,492 1111,515 C1110,535 1104,544 1097,545 C1089,544 1083,535 1083,515 C1083,492 1093,478 1096,462 Z" fill="#fffaf0"/><path d="M1095,470 C1098,484 1106,496 1105,515 C1104,530 1101,538 1097,539 C1092,538 1089,530 1089,515 C1089,496 1094,484 1095,470 Z" fill="#fffefa"/><rect x="1304.5" y="643" width="29" height="80" fill="url(#gV)"/><ellipse cx="1320" cy="603" rx="20" ry="40" fill="url(#gBlob)"/><path d="M1321,572 C1324,584 1333,594 1332,612 C1331,628 1327,636 1320,637 C1313,636 1308,628 1308,612 C1308,594 1318,584 1321,572 Z" fill="#fffaf0"/><rect x="1430" y="560" width="12" height="160" fill="url(#gV)"/><ellipse cx="1436" cy="505" rx="10" ry="40" fill="url(#gBlob)"/><path d="M1206,679 C1196,665 1182,640 1181,600 C1180,560 1200,525 1214,495 C1226,470 1230,445 1228,425 C1227,415 1229,408 1232,404 L1237,404 C1235,420 1240,450 1250,475 C1262,505 1286,545 1285,595 C1284,640 1268,665 1258,679 Z" fill="#e7e6e5" stroke="#8f877c" stroke-width="1.1"/><ellipse cx="1232" cy="585" rx="40" ry="78" fill="url(#gFil)"/><rect x="1207" y="530" width="50" height="108" rx="14" fill="#fbf5e8" opacity="0.9"/><rect x="1210.9" y="536" width="5.6" height="97" rx="2.8" fill="#fffef8"/><ellipse cx="1213.7" cy="539" rx="3" ry="4" fill="#f1df8c"/><ellipse cx="1213.7" cy="630" rx="3" ry="4" fill="#f1df8c"/><rect x="1222.0" y="536" width="5.6" height="97" rx="2.8" fill="#fffef8"/><ellipse cx="1224.8" cy="539" rx="3" ry="4" fill="#f1df8c"/><ellipse cx="1224.8" cy="630" rx="3" ry="4" fill="#f1df8c"/><rect x="1234.6" y="536" width="5.6" height="97" rx="2.8" fill="#fffef8"/><ellipse cx="1237.4" cy="539" rx="3" ry="4" fill="#f1df8c"/><ellipse cx="1237.4" cy="630" rx="3" ry="4" fill="#f1df8c"/><rect x="1244.2" y="536" width="5.6" height="97" rx="2.8" fill="#fffef8"/><ellipse cx="1247.0" cy="539" rx="3" ry="4" fill="#f1df8c"/><ellipse cx="1247.0" cy="630" rx="3" ry="4" fill="#f1df8c"/><path d="M1212,529 L1252,528 M1214,525 L1214,534 M1238,524 L1238,533 M1209,641 L1252,639 M1212,636 L1212,646" stroke="#8c7450" stroke-width="1.1"/><path d="M1222,642 L1232,668 M1240,642 L1228,668 M1230,640 L1230,676 M1225,655 L1236,655" stroke="#a8743e" stroke-width="1.4"/><rect x="1203" y="677" width="59" height="13" rx="3" fill="url(#gSock)"/><rect x="1193.6" y="685" width="79" height="35" fill="url(#gV)"/><rect x="1193.6" y="685" width="79" height="3" fill="#9c8458"/></g></g><text id="t1" xml:space="preserve" x="553.00" y="22.1" font-family="Liberation Sans" font-size="26.09" font-weight="bold" fill="#111" textLength="146.00" lengthAdjust="spacingAndGlyphs">4.7”/12cm</text><text id="t2" xml:space="preserve" x="730.80" y="120.7" font-family="Liberation Sans" font-size="28.20" font-weight="bold" fill="#111" textLength="171.20" lengthAdjust="spacingAndGlyphs">0.98”/2.5cm</text><text id="t3" xml:space="preserve" x="259.60" y="546.6" font-family="Liberation Sans" font-size="25.15" font-weight="bold" fill="#a8323a" textLength="166.00" lengthAdjust="spacingAndGlyphs">Hanging Rods</text><text id="t4" xml:space="preserve" x="200.40" y="581.2" font-family="Liberation Sans" font-size="30.09" font-weight="normal" fill="#111" textLength="274.00" lengthAdjust="spacingAndGlyphs" stroke="#111" stroke-width="1.0" stroke-linejoin="round">(11.8”  *5+5.9”  *1)</text><text id="t5" xml:space="preserve" x="27.20" y="615.5" font-family="Liberation Sans" font-size="26.60" font-weight="bold" fill="#a01c22" textLength="138.20" lengthAdjust="spacingAndGlyphs">Adjustable</text><text id="t6" xml:space="preserve" x="2.00" y="654.3" font-family="Liberation Sans" font-size="31.69" font-weight="normal" fill="#111" textLength="202.80" lengthAdjust="spacingAndGlyphs" stroke="#111" stroke-width="1.1" stroke-linejoin="round">64.9”  /165cm</text><text id="t7" xml:space="preserve" x="12.80" y="985.3" font-family="Liberation Sans" font-size="17.88" font-weight="bold" fill="#8e1a1f" textLength="114.20" lengthAdjust="spacingAndGlyphs">LONG ARMS</text><text id="t8" xml:space="preserve" x="0.00" y="1013" font-family="Liberation Sans" font-size="19.33" font-weight="normal" fill="#111" textLength="135.00" lengthAdjust="spacingAndGlyphs" stroke="#111" stroke-width="0.8" stroke-linejoin="round">14.2”/ 36cm</text><text id="t9" xml:space="preserve" x="1109.00" y="1054.6" font-family="Liberation Sans" font-size="22.38" font-weight="bold" fill="#8b1a1f" textLength="147.00" lengthAdjust="spacingAndGlyphs">SHORT ARMS</text><text id="t10" xml:space="preserve" x="1099.00" y="1085.5" font-family="Liberation Sans" font-size="27.18" font-weight="bold" fill="#111" textLength="164.60" lengthAdjust="spacingAndGlyphs">10.6”/ 27cm</text><text id="t11" xml:space="preserve" x="542.80" y="1342.9" font-family="Liberation Sans" font-size="29.65" font-weight="bold" fill="#111" textLength="186.80" lengthAdjust="spacingAndGlyphs">31.5 ” /80 cm</text><text id="t12" xml:space="preserve" x="1041.00" y="369.6" font-family="Liberation Serif" font-size="29.47" font-weight="normal" fill="#111" textLength="402.00" lengthAdjust="spacingAndGlyphs" stroke="#111" stroke-width="0.6" stroke-linejoin="round">Compatible with sloped Ceiling</text><text id="t13" xml:space="preserve" x="1144.80" y="753" font-family="Liberation Serif" font-size="27.02" font-weight="normal" fill="#111" textLength="182.20" lengthAdjust="spacingAndGlyphs" stroke="#111" stroke-width="0.6" stroke-linejoin="round">E12 Bulb Base</text><text id="t14" xml:space="preserve" x="1081.00" y="783.5" font-family="Liberation Serif" font-size="28.70" font-weight="normal" fill="#7d1a1a" textLength="311.00" lengthAdjust="spacingAndGlyphs" stroke="#7d1a1a" stroke-width="0.6" stroke-linejoin="round">(Bulbs are not included)</text></svg>
</body></html>
